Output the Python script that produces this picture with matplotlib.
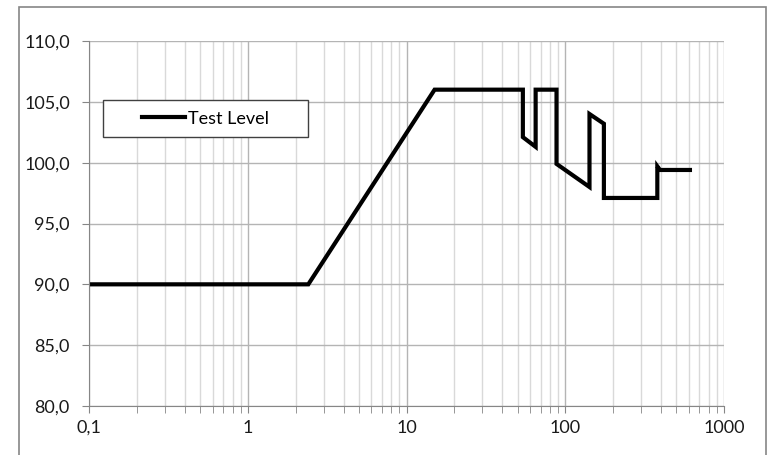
#!/usr/bin/env python3
import matplotlib.pyplot as plt
import matplotlib.ticker as mticker
from matplotlib.patches import Rectangle

# ─── Data ──────────────────────────────────────────────────────────────────────
freq  = [0.1, 2.4, 15, 54, 54, 65, 65, 88, 88, 142, 142, 175, 175, 380, 380, 395, 610]
level = [90.0, 90.0, 106.0, 106.0, 102.1, 101.3, 106.0, 106.0, 99.9, 98.0, 104.0,
         103.2, 97.1, 97.1, 99.7, 99.4, 99.4]
series_name = "Test Level"
x_ticks = [0.1, 1, 10, 100, 1000]
y_ticks = [80, 85, 90, 95, 100, 105, 110]
# ────────────────────────────────────────────────────────────────────────────────

W, H = 773, 455
plt.rcParams['font.family'] = ['Lato', 'DejaVu Sans']
fig = plt.figure(figsize=(W / 100, H / 100), dpi=100)

# outer chart border (bottom edge runs off the image, as in the reference)
fig.patches.append(Rectangle((19 / W, 1 - 460 / H), (766 - 19) / W, (460 - 7) / H,
                             transform=fig.transFigure, fill=False,
                             edgecolor='#868686', lw=1.2, zorder=-1))

left, right, top, bottom = 89.3, 724, 41, 406
ax = fig.add_axes([left / W, 1 - bottom / H, (right - left) / W, (bottom - top) / H])

ax.plot(freq, level, color='black', lw=3, solid_joinstyle='miter', label=series_name)

ax.set_xscale('log')
ax.set_xlim(0.1, 1000)
ax.set_ylim(80, 110)
ax.set_xticks(x_ticks)
ax.xaxis.set_major_formatter(mticker.FuncFormatter(
    lambda v, p: (f"{v:g}").replace('.', ',')))
ax.xaxis.set_minor_locator(mticker.LogLocator(base=10, subs=range(2, 10)))
ax.xaxis.set_minor_formatter(mticker.NullFormatter())
ax.set_yticks(y_ticks)
ax.yaxis.set_major_formatter(mticker.FuncFormatter(
    lambda v, p: f"{v:.1f}".replace('.', ',')))

ax.grid(which='major', axis='both', color='#b4b4b4', lw=1)
ax.grid(which='minor', axis='x', color='#d9d9d9', lw=1)
ax.set_axisbelow(True)

for s in ['top', 'right']:
    ax.spines[s].set_visible(False)
for s in ['left', 'bottom']:
    ax.spines[s].set_color('#868686')
ax.tick_params(which='both', direction='out', color='#868686', length=5,
               labelsize=13, labelcolor='#1a1a1a')
ax.tick_params(axis='y', pad=9)
ax.tick_params(axis='x', pad=5)

# legend box (Excel style)
bx0, by0, bx1, by1 = 103, 100, 308, 137
ax.add_patch(Rectangle((bx0 / W, 1 - by1 / H), (bx1 - bx0) / W, (by1 - by0) / H,
                       transform=fig.transFigure, facecolor='white',
                       edgecolor='#404040', lw=1, zorder=4, clip_on=False))
leg = ax.legend(loc='center', bbox_to_anchor=((bx0 + bx1) / 2 / W, 1 - (by0 + by1) / 2 / H),
                bbox_transform=fig.transFigure, frameon=False, fontsize=13,
                handlelength=2.4, handletextpad=0.2)
leg.set_zorder(10)

fig.savefig('out.png', dpi=100)
